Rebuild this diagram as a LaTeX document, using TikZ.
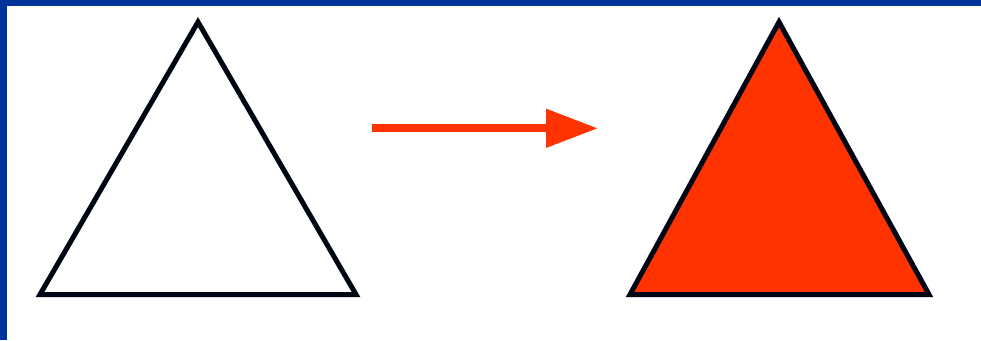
\documentclass[tikz,border=0pt]{standalone}
\usetikzlibrary{arrows.meta}
\definecolor{frameblue}{RGB}{0,51,153}
\definecolor{hotred}{RGB}{255,51,0}
\definecolor{inkblack}{RGB}{0,5,20}
\begin{document}
\begin{tikzpicture}[x=1pt,y=-1pt,
	tri/.style={ draw=inkblack, line width=5pt, miter limit=10 },
	trifill/.style={ tri, fill=hotred },
	goes/.style={ hotred, line width=8pt, -{Triangle[length=52pt,width=37pt]} }
]

\useasboundingbox (0,0) rectangle (981,340);
\fill[white] (0,0) rectangle (981,340);
\fill[frameblue] (0,0) rectangle (981,6);
\fill[frameblue] (0,0) rectangle (7,340);

\coordinate (a1) at (40,294.5);
\coordinate (a2) at (356,294.5);
\coordinate (a3) at (198,22);
\draw[tri] (a1) -- (a2) -- (a3) -- cycle;

\coordinate (b1) at (630,294.5);
\coordinate (b2) at (929,294.5);
\coordinate (b3) at (779,22);
\draw[trifill] (b1) -- (b2) -- (b3) -- cycle;

\coordinate (from) at (372,128.3);
\coordinate (to) at (598,128.3);
\draw[goes] (from) -- (to);

\end{tikzpicture}
\end{document}
